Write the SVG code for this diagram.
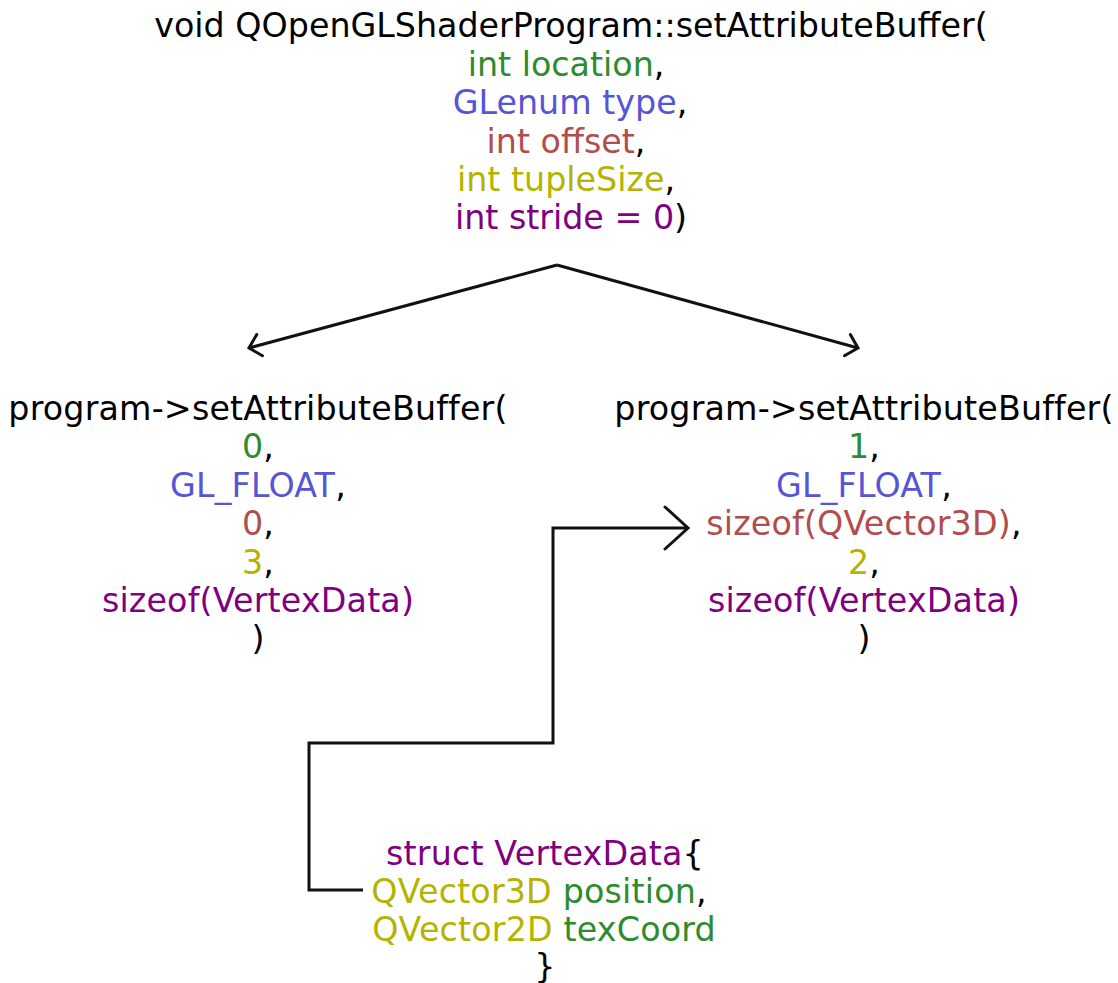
<svg xmlns="http://www.w3.org/2000/svg" width="1118" height="983" viewBox="0 0 1118 983">
  <style>
    text { font-family: "DejaVu Sans", "Liberation Sans", sans-serif; font-size: 33.3px; fill: #000; text-anchor: middle; }
    .call text { letter-spacing: 0.17px; }
    .loc { fill: #2e8b2e; }
    .typ { fill: #5555d6; }
    .off { fill: #b04e4e; }
    .tup { fill: #b3b300; }
    .str { fill: #800080; }
    .wire { fill: none; stroke: #111; stroke-width: 3; stroke-linejoin: miter; }
  </style>
  <defs>
    <marker id="chev-s" viewBox="0 0 14 24" refX="12" refY="12" markerWidth="14" markerHeight="24" markerUnits="userSpaceOnUse" orient="auto" overflow="visible">
      <path d="M1,1 L12,12 L1,23" fill="none" stroke="#111" stroke-width="3" stroke-linecap="round"/>
    </marker>
    <marker id="chev-l" viewBox="0 0 24 44" refX="23" refY="21" markerWidth="24" markerHeight="44" markerUnits="userSpaceOnUse" orient="auto" overflow="visible">
      <path d="M0,0 L23,21 L0,42" fill="none" stroke="#111" stroke-width="3" stroke-linecap="round"/>
    </marker>
  </defs>

  <g id="signature">
    <text x="571" y="37">void QOpenGLShaderProgram::setAttributeBuffer(</text>
    <text x="566" y="76"><tspan class="loc">int location</tspan>,</text>
    <text x="570" y="114"><tspan class="typ">GLenum type</tspan>,</text>
    <text x="566" y="153"><tspan class="off">int offset</tspan>,</text>
    <text x="566" y="191"><tspan class="tup">int tupleSize</tspan>,</text>
    <text x="571" y="229"><tspan class="str">int stride = 0</tspan>)</text>
  </g>

  <g id="call-position" class="call">
    <text x="258" y="420">program-&gt;setAttributeBuffer(</text>
    <text x="258" y="458"><tspan class="loc">0</tspan>,</text>
    <text x="258" y="497"><tspan class="typ">GL_FLOAT</tspan>,</text>
    <text x="258" y="535"><tspan class="off">0</tspan>,</text>
    <text x="258" y="574"><tspan class="tup">3</tspan>,</text>
    <text x="258" y="612" class="str">sizeof(VertexData)</text>
    <text x="258" y="650">)</text>
  </g>

  <g id="call-texcoord" class="call">
    <text x="864" y="420">program-&gt;setAttributeBuffer(</text>
    <text x="864" y="458"><tspan class="loc">1</tspan>,</text>
    <text x="864" y="497"><tspan class="typ">GL_FLOAT</tspan>,</text>
    <text x="864" y="535"><tspan class="off">sizeof(QVector3D)</tspan>,</text>
    <text x="864" y="574"><tspan class="tup">2</tspan>,</text>
    <text x="864" y="612" class="str">sizeof(VertexData)</text>
    <text x="864" y="650">)</text>
  </g>

  <g id="vertex-struct" class="call">
    <text x="545" y="865"><tspan class="str">struct VertexData</tspan>{</text>
    <text x="539" y="903"><tspan class="tup">QVector3D</tspan> <tspan class="loc">position</tspan>,</text>
    <text x="544" y="941"><tspan class="tup">QVector2D</tspan> <tspan class="loc">texCoord</tspan></text>
    <text x="545" y="978">}</text>
  </g>

  <g id="connectors">
    <path class="wire" d="M557,265 L249,348" marker-end="url(#chev-s)"/>
    <path class="wire" d="M557,265 L858,348" marker-end="url(#chev-s)"/>
    <path class="wire" d="M363,890 L309,890 L309,743 L553,743 L553,528 L688,528" marker-end="url(#chev-l)"/>
  </g>
</svg>
